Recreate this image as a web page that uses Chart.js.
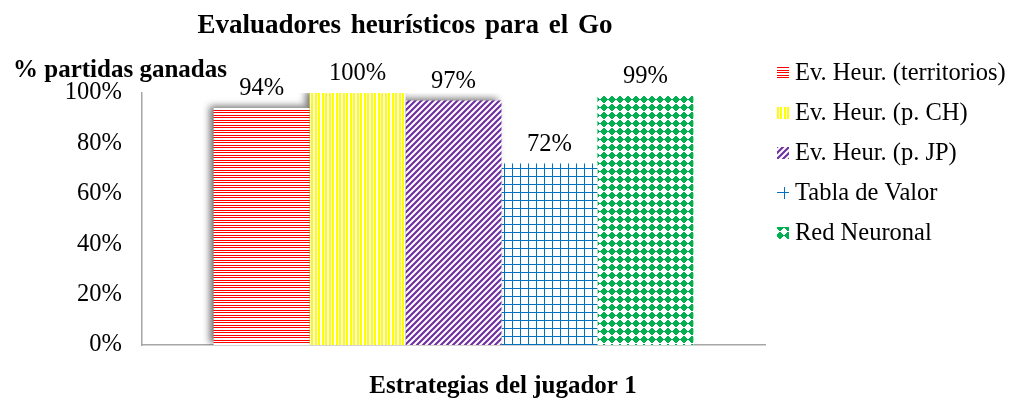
<!DOCTYPE html>
<html>
<head>
<meta charset="utf-8">
<script src="https://cdn.jsdelivr.net/npm/chart.js@4/dist/chart.umd.min.js"></script>
<style>
html,body{margin:0;padding:0;background:#fff;}
canvas{display:block;}
</style>
</head>
<body>
<canvas id="c" width="1026" height="402"></canvas>
<script>
// ---- data ----
const categories = [""];
const seriesNames = ["Ev. Heur. (territorios)", "Ev. Heur. (p. CH)", "Ev. Heur. (p. JP)", "Tabla de Valor", "Red Neuronal"];
const seriesValues = [94, 100, 97, 72, 99];
const yTicks = [0, 20, 40, 60, 80, 100];
const chartTitle = "Evaluadores heurísticos para el Go";
const yTitle = "% partidas ganadas";
const xTitle = "Estrategias del jugador 1";

// ---- patterns ----
function makeTile(w, h, draw) {
  const c = document.createElement('canvas');
  c.width = w; c.height = h;
  const g = c.getContext('2d');
  g.fillStyle = '#fff'; g.fillRect(0, 0, w, h);
  draw(g);
  return c;
}
const ctx0 = document.getElementById('c').getContext('2d');
const tiles = [
  makeTile(4, 5, g => { g.fillStyle = '#FF0000'; g.fillRect(0, 0, 4, 1); g.fillRect(0, 2, 4, 1); }),
  makeTile(7, 4, g => { g.fillStyle = '#FFFF00'; g.fillRect(0, 0, 2, 4); g.fillRect(3, 0, 2, 4); }),
  makeTile(6, 6, g => {
    g.strokeStyle = '#7030A0'; g.lineWidth = 2.2;
    g.beginPath();
    g.moveTo(-1, 7); g.lineTo(7, -1);
    g.moveTo(-4, 4); g.lineTo(4, -4);
    g.moveTo(2, 10); g.lineTo(10, 2);
    g.stroke();
  }),
  makeTile(8, 8, g => { g.fillStyle = '#0070C0'; g.fillRect(0, 0, 1, 8); g.fillRect(0, 0, 8, 1); }),
  makeTile(8, 8, g => {
    g.fillStyle = '#00B050';
    const rows = [
      "...XX...",
      "..XXXX..",
      ".XXXXXX.",
      "XXXXXXXX",
      ".XXXXXX.",
      "..XXXX..",
      "...XX...",
      "........"
    ];
    rows.forEach((r, y) => { for (let x = 0; x < 8; x++) if (r[x] === 'X') g.fillRect(x, y, 1, 1); });
  })
];
const patterns = tiles.map(t => ctx0.createPattern(t, 'repeat'));
const shadowed = [true, true, true, false, false];

const SERIF = '"Liberation Serif", "Times New Roman", serif';

const datasets = seriesNames.map((name, i) => ({
  label: name,
  data: [seriesValues[i]],
  backgroundColor: patterns[i],
  borderWidth: 0,
  categoryPercentage: 0.77,
  barPercentage: 1.0
}));

const decor = {
  id: 'decor',
  beforeDatasetDraw(chart, args) {
    const ctx = chart.ctx;
    if (shadowed[args.index]) {
      ctx.shadowColor = 'rgba(0,0,0,0.55)';
      ctx.shadowBlur = 7;
      ctx.shadowOffsetX = -4;
      ctx.shadowOffsetY = -2;
    }
  },
  afterDatasetDraw(chart, args) {
    const ctx = chart.ctx;
    ctx.shadowColor = 'rgba(0,0,0,0)';
    ctx.shadowBlur = 0;
    ctx.shadowOffsetX = 0;
    ctx.shadowOffsetY = 0;
  },
  afterDraw(chart) {
    const ctx = chart.ctx;
    ctx.save();
    ctx.shadowColor = 'rgba(0,0,0,0)';
    ctx.fillStyle = '#000';
    // data labels
    ctx.font = '24.5px ' + SERIF;
    ctx.textAlign = 'center';
    ctx.textBaseline = 'alphabetic';
    chart.data.datasets.forEach((ds, i) => {
      const meta = chart.getDatasetMeta(i);
      meta.data.forEach((bar, j) => {
        ctx.fillText(ds.data[j] + '%', bar.x, bar.y - 13);
      });
    });
    // main title
    ctx.font = 'bold 27px ' + SERIF;
    if ('wordSpacing' in ctx) ctx.wordSpacing = '3px';
    ctx.fillText(chartTitle, 405, 33);
    if ('wordSpacing' in ctx) ctx.wordSpacing = '0px';
    // y title
    ctx.font = 'bold 25px ' + SERIF;
    ctx.textAlign = 'left';
    ctx.fillText(yTitle, 13, 77);
    // x title
    ctx.textAlign = 'center';
    ctx.fillText(xTitle, 503, 393);
    // legend
    ctx.font = '24.5px ' + SERIF;
    ctx.textAlign = 'left';
    ctx.textBaseline = 'middle';
    seriesNames.forEach((name, i) => {
      const cy = 73 + i * 40;
      ctx.fillStyle = patterns[i];
      ctx.fillRect(777, cy - 6, 12, 12);
      ctx.fillStyle = '#000';
      ctx.fillText(name, 795, cy + 1);
    });
    ctx.restore();
  }
};

new Chart(document.getElementById('c'), {
  type: 'bar',
  data: { labels: categories, datasets },
  options: {
    responsive: false,
    animation: false,
    devicePixelRatio: 1,
    layout: { padding: { left: 0, right: 261, top: 93, bottom: 57 } },
    plugins: { legend: { display: false }, tooltip: { enabled: false }, title: { display: false } },
    scales: {
      x: {
        grid: { display: false, drawTicks: false },
        border: { display: true, color: '#A6A6A6', width: 1.5 },
        ticks: { display: false },
        afterFit(s) { s.height = 0; }
      },
      y: {
        min: 0, max: 100,
        afterBuildTicks(s) { s.ticks = yTicks.map(v => ({ value: v })); },
        grid: { display: false, drawTicks: false },
        border: { display: true, color: '#A6A6A6', width: 1.5 },
        ticks: {
          padding: 20,
          color: '#000',
          font: { family: SERIF, size: 24.5 },
          callback: v => v + '%'
        },
        afterFit(s) { s.width = 142; }
      }
    }
  },
  plugins: [decor]
});
</script>
</body>
</html>
